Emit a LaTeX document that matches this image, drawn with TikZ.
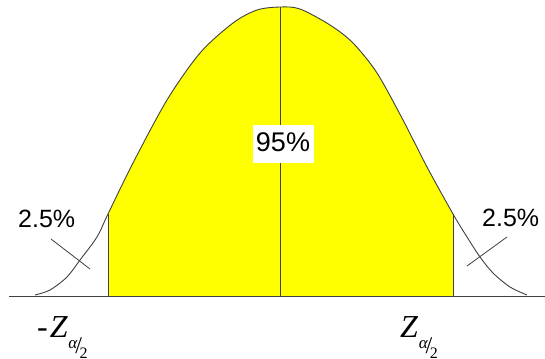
\documentclass[tikz,border=0pt]{standalone}
\usepackage{fontspec}
\setmainfont{Liberation Sans}
\newfontfamily\zfont{Liberation Serif}
\definecolor{curvegray}{HTML}{404040}
\definecolor{bellyellow}{HTML}{FFFF00}
\newcommand{\zhalfsub}{\kern0.5pt\raisebox{-11pt}{\fontsize{17}{17}\selectfont\itshape α}\kern-2pt\raisebox{-16pt}{\fontsize{24}{24}\selectfont /}\kern-2.5pt\raisebox{-21pt}{\fontsize{16}{16}\selectfont 2}}
\begin{document}
\begin{tikzpicture}[x=1pt,y=-1pt,
  curve/.style={draw=curvegray,line width=0.9pt},
  pct/.style={font=\fontsize{25}{25}\selectfont,inner sep=0pt},
  zlab/.style={font=\zfont\fontsize{32}{32}\selectfont,inner sep=0pt,anchor=base west}]
\useasboundingbox (0,0) rectangle (545,358);
% filled central area
\fill[bellyellow] (108,296) -- plot[smooth] coordinates {(108,214) (133,163) (167,100) (200,53) (233,23) (257,10) (280,7) (300,9) (330,25) (353,43) (377,73) (403,120) (427,167) (453,214)}
  -- (453,296) -- cycle;
% axis
\draw[curvegray,line width=0.9pt] (9,296) -- (545,296);
% whole curve
\draw[curve] plot[smooth] coordinates {(35,295) (50,290) (67,277) (80,260) (97,237) (108,214) (133,163) (167,100) (200,53) (233,23) (257,10) (280,7) (300,9) (330,25) (353,43) (377,73) (403,120) (427,167) (453,214) (467,237) (480,257) (493,273) (510,287) (527,295)};
% verticals
\draw[curve] (108,296) -- (108,214);
\draw[curve] (453,296) -- (453,214);
\draw[curve] (280,296) -- (280,7);
% labels
\node[pct,fill=white,minimum width=61pt,minimum height=38pt,font=\fontsize{27}{27}\selectfont] (mid) at (283,144) {\raisebox{3pt}{95\%}};
\node[pct,anchor=base west] (lp) at (18,227) {2.5\%};
\node[pct,anchor=base west] (rp) at (482,226) {2.5\%};
\coordinate (la) at (51,239);
\coordinate (lb) at (90,269);
\coordinate (ra) at (507,237);
\coordinate (rb) at (467,266);
\draw[curvegray,line width=0.8pt] (la) -- (lb);
\draw[curvegray,line width=0.8pt] (ra) -- (rb);
\node[zlab] (zl) at (37,337) {-\kern2pt\textit{Z}\zhalfsub};
\node[zlab] (zr) at (400,337) {\textit{Z}\zhalfsub};
\end{tikzpicture}
\end{document}
